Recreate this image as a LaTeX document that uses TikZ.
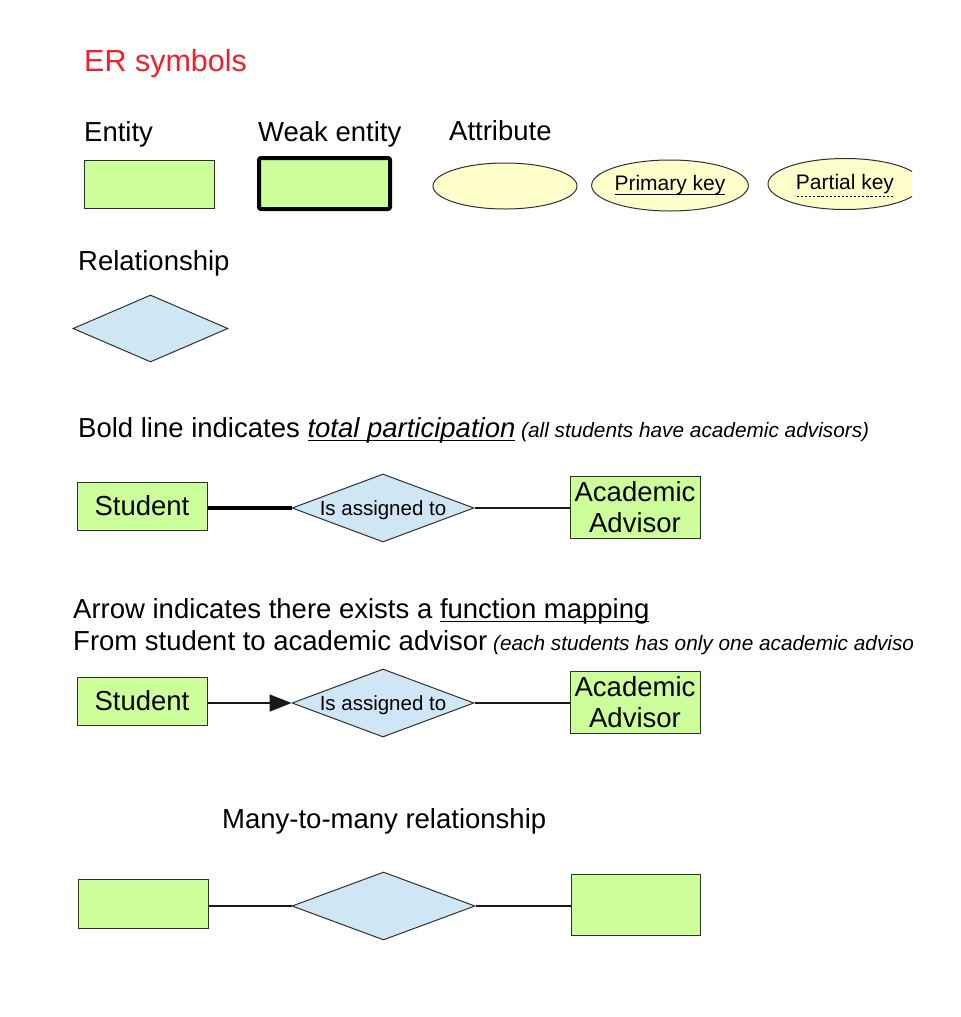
\documentclass[tikz,border=0pt]{standalone}
\usepackage{fontspec}
\setmainfont{Liberation Sans}
\usetikzlibrary{shapes.geometric,arrows.meta,calc}
\definecolor{entgreen}{HTML}{CCFF99}
\definecolor{relblue}{HTML}{CFE7F5}
\definecolor{attryellow}{HTML}{FFFFCC}
\definecolor{titlered}{HTML}{F0202A}
\definecolor{edgegray}{HTML}{303030}
\newcommand\solidul[1]{\setbox0\hbox{#1}\rlap{\smash{\rule[-4bp]{\wd0}{1.4bp}}}\box0\relax}
\newcommand\dashul[1]{\setbox0\hbox{#1}\rlap{\smash{\raisebox{-7bp}{\hbox to \wd0{\xleaders\hbox to 4bp{\hss\rule{2.2bp}{0.9bp}\hss}\hfil}}}}\box0\relax}
\newcommand\bigtxt{\fontsize{27.5bp}{31bp}\selectfont}
\newcommand\smalltxt{\fontsize{21bp}{24bp}\selectfont}
\newcommand\notetxt{\fontsize{20.8bp}{24bp}\selectfont\itshape}
\tikzset{
  entity/.style={draw=edgegray, fill=entgreen, line width=1bp, inner sep=0pt,
    minimum width=130bp, minimum height=48bp, align=center, font=\bigtxt},
  weakentity/.style={entity, draw=black, line width=4bp, rounded corners=2bp,
    minimum width=131bp, minimum height=51bp},
  attr/.style={ellipse, draw=edgegray, fill=attryellow, line width=1bp, inner sep=0pt,
    minimum width=144bp, minimum height=46bp, font=\smalltxt},
  rel/.style={diamond, draw=edgegray, fill=relblue, line width=1bp, inner sep=0pt,
    aspect=2.68, minimum width=182bp, minimum height=68bp, text depth=0pt,
    font=\fontsize{20.5bp}{24bp}\selectfont},
  label/.style={anchor=base west, inner sep=0pt, font=\bigtxt},
  link/.style={draw=black!90, line width=1.8bp},
}
\begin{document}
\begin{tikzpicture}[x=1bp, y=-1bp]
\useasboundingbox (0,0) rectangle (961,1017);
\fill[white] (0,0) rectangle (961,1017);
\begin{scope}
\clip (0,0) rectangle (912,1017);

% header and symbol labels
\node[label, text=titlered, font=\fontsize{30.5bp}{35bp}\selectfont] (title) at (84,71) {ER symbols};
\node[label] (lent) at (84,141) {Entity};
\node[label] (lweak) at (258,141) {Weak entity};
\node[label] (lattr) at (449,140) {Attribute};
\node[label] (lrel) at (78,270) {Relationship};

% symbols
\node[entity] (ent) at (149,184) {};
\node[weakentity] (weak) at (324.5,183.5) {};
\node[attr] (att) at (505,186) {};
\node[attr, minimum width=150bp, minimum height=51bp] (pk) at (670,185.5) {\solidul{Primary key}};
\node[attr, minimum width=154bp, minimum height=51bp] (ptk) at (845,184) {\dashul{Partial key}};
\node[rel, minimum width=155bp, minimum height=67bp, aspect=2.3] (relsym) at (150.5,328.5) {};

% total participation
\node[label] (t1) at (78,437) {Bold line indicates \solidul{\itshape total participation}{\notetxt\ (all students have academic advisors)}};
\node[entity] (s1) at (142,506) {Student};
\node[rel] (d1) at (383,508) {Is assigned to};
\node[entity, minimum height=62bp] (a1) at (635,507) {Academic\\Advisor};
\draw[line width=4bp, black] (s1.east |- d1.west) -- (d1.west);
\draw[link, line width=1.5bp] (d1.east) -- (a1.west |- d1.east);

% function mapping
\node[label] (t2) at (73,618) {Arrow indicates there exists a \solidul{function mapping}};
\node[label] (t3) at (73,650) {From student to academic advisor{\notetxt\ (each students has only one academic advisor)}};
\node[entity] (s2) at (142,701) {Student};
\node[rel] (d2) at (383,703) {Is assigned to};
\node[entity, minimum height=62bp] (a2) at (635,702) {Academic\\Advisor};
\draw[link, -{Triangle[length=22bp,width=17bp]}] (s2.east |- d2.west) -- (d2.west);
\draw[link, line width=1.5bp] (d2.east) -- (a2.west |- d2.east);

% many-to-many
\node[label] (t4) at (222,828) {Many-to-many relationship};
\node[entity, minimum height=49bp] (l3) at (143,903.5) {};
\node[rel, minimum width=183bp] (d3) at (383.5,906) {};
\node[entity, minimum width=129bp, minimum height=61bp] (r3) at (635.5,904.5) {};
\draw[link] (l3.east |- d3.west) -- (d3.west);
\draw[link, line width=2.2bp] (d3.east) -- (r3.west |- d3.east);
\end{scope}
\end{tikzpicture}
\end{document}
